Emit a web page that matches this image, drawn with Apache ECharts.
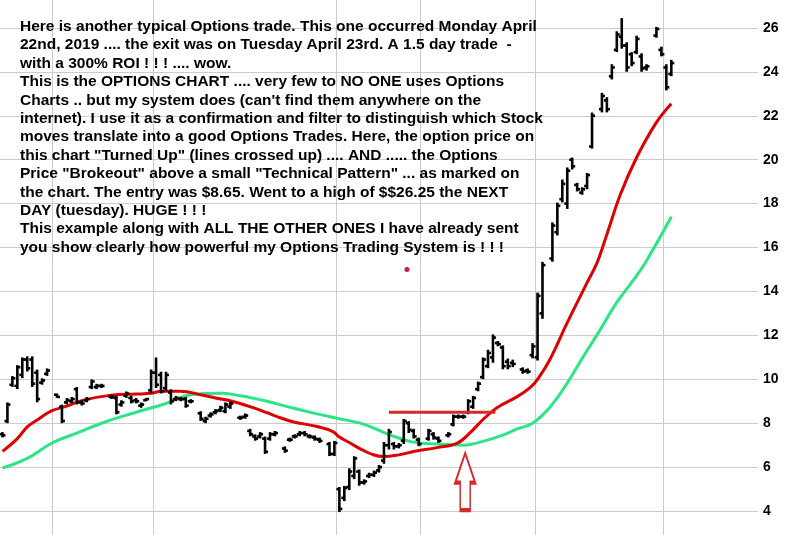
<!DOCTYPE html>
<html>
<head>
<meta charset="utf-8">
<script src="https://cdn.jsdelivr.net/npm/echarts@6/dist/echarts.min.js"></script>
<style>
html,body{margin:0;padding:0;background:#fff;}
#chart{width:798px;height:535px;}
</style>
</head>
<body>
<div id="chart"></div>
<script>
// option price bars, one slot per session: [open, close, low, high], null = no trade
const bars = [
  [7.5,7.45,7.4,7.55],[8.1,8.85,8.05,8.9],[9.75,10.05,9.7,10.1],[9.7,10.55,9.6,10.6],[10.2,10.9,10.1,10.95],
  [10.9,10.5,10.4,11.0],[10.9,9.8,9.7,11.0],[10.3,9.1,9.0,10.4],[9.85,9.95,9.8,10.0],[10.25,10.4,10.2,10.45],
  null,[9.3,9.2,9.2,9.3],[8.75,8.1,8.05,8.8],[8.95,9.05,8.9,9.1],[9.0,9.1,8.95,9.15],
  [9.55,8.95,8.9,9.6],[8.95,8.9,8.85,9.0],[9.05,9.1,9.0,9.15],[9.65,9.9,9.6,9.95],[9.65,9.7,9.6,9.75],
  [9.7,9.7,9.65,9.75],null,[9.2,9.2,9.15,9.25],[9.15,8.5,8.45,9.2],[8.85,8.95,8.8,9.0],
  [9.25,9.35,9.2,9.4],[9.15,9.0,8.95,9.2],[9.05,9.0,8.95,9.1],[8.8,8.85,8.75,8.9],[9.05,9.1,9.05,9.1],
  [9.5,10.3,9.4,10.4],[10.3,9.75,9.65,10.95],[10.2,9.45,9.4,10.3],[9.6,10.2,9.5,10.3],[9.4,9.0,8.9,9.5],
  [9.1,9.15,9.05,9.2],[9.1,9.1,9.05,9.15],[9.1,8.8,8.75,9.15],[9.0,9.0,8.95,9.05],null,
  [8.45,8.2,8.15,8.5],[8.1,8.2,8.05,8.25],[8.35,8.4,8.3,8.45],[8.5,8.55,8.45,8.6],[8.6,8.7,8.55,8.75],
  [8.55,8.85,8.5,8.9],[8.75,8.9,8.7,8.95],null,[8.25,8.25,8.2,8.3],[8.3,8.35,8.25,8.4],
  [7.65,7.5,7.45,7.7],[7.4,7.3,7.25,7.45],[7.4,7.5,7.35,7.55],[7.3,6.7,6.65,7.35],[7.3,7.5,7.25,7.55],
  [7.5,7.55,7.45,7.6],null,[6.85,6.75,6.7,6.9],[7.25,7.25,7.2,7.3],[7.4,7.4,7.35,7.45],
  [7.5,7.55,7.45,7.6],[7.55,7.5,7.45,7.6],[7.4,7.4,7.35,7.45],[7.35,7.3,7.25,7.4],[7.25,7.2,7.15,7.3],
  null,[7.05,6.6,6.55,7.1],[6.6,7.1,6.55,7.15],[5.0,4.1,4.0,5.05],[4.6,5.05,4.5,5.1],
  [5.1,5.8,5.0,5.9],[5.6,6.4,5.5,6.45],[5.8,5.3,5.2,5.85],[5.3,5.35,5.25,5.4],[5.6,5.65,5.55,5.7],
  [5.65,5.75,5.6,5.8],[5.85,6.0,5.8,6.05],[6.3,7.0,6.2,7.1],[7.0,7.6,6.85,7.7],[7.05,6.95,6.85,7.1],
  [6.95,7.0,6.9,7.05],[7.2,8.1,7.1,8.15],[8.0,7.7,7.6,8.05],[7.65,7.4,7.35,7.7],[7.25,7.05,7.0,7.3],
  null,[7.3,7.65,7.25,7.7],[7.5,7.35,7.3,7.55],[7.3,7.2,7.15,7.35],null,
  [7.45,7.5,7.4,7.55],[7.95,8.3,7.9,8.35],[8.3,8.3,8.25,8.35],[8.3,8.3,8.25,8.35],[8.5,9.0,8.45,9.05],
  [8.75,9.15,8.7,9.2],[9.55,9.8,9.5,9.85],[10.1,10.9,10.05,10.95],[10.6,11.2,10.55,11.3],[11.0,11.9,10.8,12.0],
  [11.65,11.6,11.55,11.7],[11.45,10.6,10.5,11.5],[10.8,10.6,10.5,10.9],[10.75,10.7,10.6,10.85],null,
  [10.45,10.35,10.3,10.5],[10.4,10.35,10.3,10.45],[11.1,11.5,11.0,11.6],[11.0,13.8,10.9,13.9],[13.0,15.2,12.8,15.3],
  null,[15.5,17.0,15.4,17.1],[16.7,17.9,16.6,18.0],[18.2,18.9,18.1,19.05],[18.0,19.5,17.8,19.6],
  [20.0,19.7,19.6,20.05],[18.85,18.65,18.6,18.9],[18.5,18.65,18.45,18.7],[18.8,19.3,18.7,19.35],[20.6,22.0,20.55,22.1],
  null,[22.3,22.9,22.2,23.0],[22.7,22.3,22.2,22.8],[23.8,24.2,23.7,24.3],[25.0,25.7,24.95,25.8],
  [25.6,25.2,25.1,26.4],[25.2,24.2,24.05,25.3],[24.8,24.4,24.3,24.85],[24.9,25.5,24.85,25.6],[24.7,24.15,24.05,24.8],
  [24.2,24.25,24.1,24.3],null,[25.65,25.95,25.6,26.0],[25.0,24.8,24.75,25.1],[24.2,23.3,23.2,24.3],
  [23.9,24.4,23.85,24.5]
];
const slotCount = 153;

// moving averages: [slot, value]
const redMA = [[0,6.72],[3,7.3],[5,7.83],[7,8.15],[10,8.57],[13,8.78],[16,9.03],[22,9.28],[27,9.33],[30,9.36],
  [32,9.46],[36,9.46],[40,9.3],[43,9.15],[46.5,8.99],[50.6,8.71],[53.4,8.48],[55.4,8.3],[58.6,8.07],[63.5,7.85],
  [66.7,7.62],[68,7.37],[70,7.12],[72.5,6.8],[74.8,6.57],[76.8,6.48],[80,6.56],[83,6.71],[87.7,6.89],[91.7,7.08],
  [94.4,7.57],[97,8.17],[99.8,8.71],[103.9,9.21],[106.5,9.62],[108,10.0],[110.5,10.9],[114,12.58],[118,14.4],
  [120,15.3],[122,16.6],[124.7,18.4],[128,20.1],[132,21.7],[135,22.55]];
const greenMA = [[0,5.96],[5,6.4],[10,7.1],[15,7.55],[20,8.0],[24,8.3],[28.5,8.6],[33,8.9],[37,9.25],[41,9.35],
  [44.5,9.37],[48,9.25],[50.6,9.14],[53.4,9.0],[58.6,8.69],[63,8.45],[67.5,8.23],[73,7.95],[78.3,7.46],[82.9,7.14],
  [88.3,7.05],[93,7.0],[96.4,7.14],[101,7.46],[104,7.75],[107,8.0],[110.5,8.73],[114,9.83],[117,10.95],[120.6,12.24],
  [124,13.5],[127.3,14.5],[130,15.4],[135,17.4]];

// month separators (slot positions)
const monthLines = [10, 30.4, 67.3, 84.3, 107.5, 133.3];

// annotations
const breakout = [[78, 8.5], [99.5, 8.5]];
const entryArrow = [93.4, 5.34];
const redDot = [81.65, 15.0];

const notes = [
  'Here is another typical Options trade. This one occurred Monday April',
  '22nd, 2019 .... the exit was on Tuesday April 23rd. A 1.5 day trade  -',
  'with a 300% ROI ! ! ! .... wow.',
  'This is the OPTIONS CHART .... very few to NO ONE uses Options',
  'Charts .. but my system does (can\'t find them anywhere on the',
  'internet). I use it as a confirmation and filter to distinguish which Stock',
  'moves translate into a good Options Trades. Here, the option price on',
  'this chart "Turned Up" (lines crossed up) .... AND ..... the Options',
  'Price "Brokeout" above a small "Technical Pattern" ... as marked on',
  'the chart. The entry was $8.65. Went to a high of $$26.25 the NEXT',
  'DAY (tuesday). HUGE ! ! !',
  'This example along with ALL THE OTHER ONES I have already sent',
  'you show clearly how powerful my Options Trading System is ! ! !'
];

const ohlcData = [];
bars.forEach((b, i) => { if (b) ohlcData.push([i, b[0], b[1], b[2], b[3]]); });

function renderOHLC(params, api) {
  const x = api.value(0);
  const op = api.coord([x, api.value(1)]);
  const cp = api.coord([x, api.value(2)]);
  const lo = api.coord([x, api.value(3)]);
  const hi = api.coord([x, api.value(4)]);
  const t = api.size([1, 0])[0] * 0.6;
  const st = {stroke: '#000', lineWidth: 2.6};
  return {
    type: 'group',
    children: [
      {type: 'line', shape: {x1: hi[0], y1: hi[1] - 1, x2: lo[0], y2: lo[1] + 1}, style: st},
      {type: 'line', shape: {x1: op[0] - t, y1: op[1], x2: op[0], y2: op[1]}, style: st},
      {type: 'line', shape: {x1: cp[0], y1: cp[1], x2: cp[0] + t, y2: cp[1]}, style: st}
    ]
  };
}

const chart = echarts.init(document.getElementById('chart'));
chart.setOption({
  animation: false,
  backgroundColor: '#fff',
  grid: {left: 0, right: 40, top: -16, bottom: -20, outerBoundsMode: 'none', containLabel: false},
  xAxis: {type: 'value', min: -0.5, max: slotCount - 0.5, show: false},
  yAxis: {
    type: 'value', position: 'right', min: 2, max: 28, interval: 2,
    axisLine: {show: false}, axisTick: {show: false},
    axisLabel: {color: '#000', fontWeight: 'bold', fontSize: 14, fontFamily: 'Liberation Sans', margin: 5},
    splitLine: {lineStyle: {color: '#cccccc', width: 1}}
  },
  graphic: [{
    type: 'text', left: 20, top: 17.5, z: 10,
    style: {
      text: notes.join('\n'),
      font: 'bold 15.5px "Liberation Sans"',
      lineHeight: 18.4,
      fill: '#000'
    }
  }],
  series: [
    {
      type: 'line', data: greenMA, smooth: 0.4, symbol: 'none', z: 3,
      lineStyle: {color: '#2ee585', width: 3},
      markLine: {
        silent: true, symbol: ['none', 'none'], z: 1,
        label: {show: false},
        lineStyle: {color: '#cccccc', width: 1, type: 'solid'},
        data: monthLines.map(v => ({xAxis: v}))
      }
    },
    {
      type: 'line', data: redMA, smooth: 0.4, symbol: 'none', z: 3,
      lineStyle: {color: '#dd0000', width: 3}
    },
    {
      type: 'custom', renderItem: renderOHLC, data: ohlcData, z: 4,
      encode: {x: 0, y: [1, 2, 3, 4]}
    },
    {
      type: 'line', data: breakout, symbol: 'none', z: 5,
      lineStyle: {color: '#d42a2a', width: 3},
      markPoint: {
        silent: true, label: {show: false},
        data: [
          {coord: entryArrow, symbol: 'path://M10,0 L20,29 L15,29 L15,56 L5,56 L5,29 L0,29 Z',
           symbolSize: [20, 57], itemStyle: {color: '#ffffff', borderColor: '#d42a2a', borderWidth: 2.5}},
          {coord: redDot, symbol: 'circle', symbolSize: 5, itemStyle: {color: '#c81e3c'}}
        ]
      }
    }
  ]
});
window.addEventListener('resize', () => chart.resize());
</script>
</body>
</html>
